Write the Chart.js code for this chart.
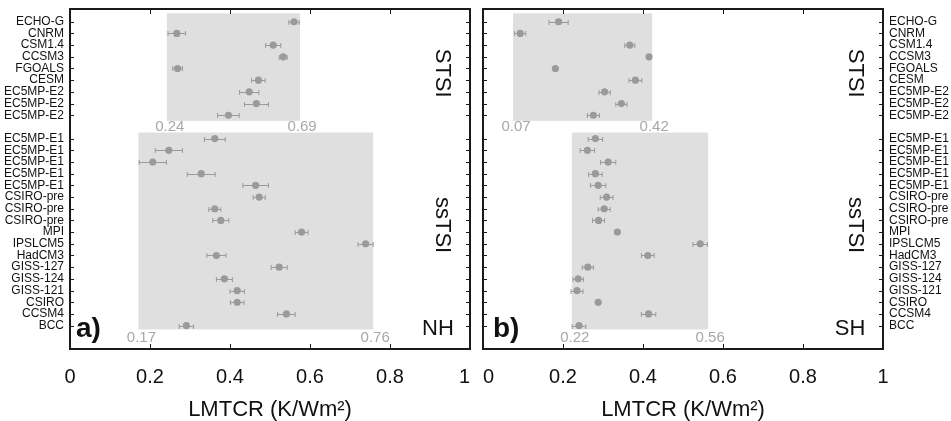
<!DOCTYPE html>
<html>
<head>
<meta charset="utf-8">
<script src="https://cdn.jsdelivr.net/npm/chart.js@4/dist/chart.umd.min.js"></script>
<style>
html, body { margin: 0; padding: 0; background: #fff; }
#wrap { position: relative; width: 951px; height: 421px; }
#nh { position: absolute; left: 0; top: 0; }
#sh { position: absolute; left: 476px; top: 0; }
</style>
</head>
<body>
<div id="wrap">
  <canvas id="nh" width="476" height="421"></canvas>
  <canvas id="sh" width="475" height="421"></canvas>
</div>
<script>
// model names, STSI group (top) and ssTSI group (bottom)
var topModels = ['ECHO-G', 'CNRM', 'CSM1.4', 'CCSM3', 'FGOALS', 'CESM', 'EC5MP-E2', 'EC5MP-E2', 'EC5MP-E2'];
var bottomModels = ['EC5MP-E1', 'EC5MP-E1', 'EC5MP-E1', 'EC5MP-E1', 'EC5MP-E1', 'CSIRO-pre', 'CSIRO-pre', 'CSIRO-pre',
  'MPI', 'IPSLCM5', 'HadCM3', 'GISS-127', 'GISS-124', 'GISS-121', 'CSIRO', 'CCSM4', 'BCC'];

// LMTCR values and half-width of error bars
var nhTopValues = [0.560, 0.267, 0.508, 0.533, 0.269, 0.471, 0.448, 0.466, 0.396];
var nhTopErrors = [0.013, 0.022, 0.019, 0.010, 0.012, 0.017, 0.024, 0.030, 0.027];
var nhBottomValues = [0.362, 0.247, 0.207, 0.328, 0.464, 0.473, 0.362, 0.377, 0.579, 0.739, 0.366, 0.523, 0.386, 0.418, 0.418, 0.541, 0.291];
var nhBottomErrors = [0.026, 0.034, 0.034, 0.035, 0.032, 0.015, 0.015, 0.020, 0.016, 0.019, 0.024, 0.020, 0.020, 0.018, 0.017, 0.022, 0.018];

var shTopValues = [0.189, 0.093, 0.367, 0.415, 0.181, 0.381, 0.304, 0.346, 0.276];
var shTopErrors = [0.024, 0.014, 0.0125, 0.004, 0.003, 0.016, 0.014, 0.014, 0.015];
var shBottomValues = [0.281, 0.261, 0.313, 0.281, 0.288, 0.309, 0.303, 0.289, 0.336, 0.543, 0.412, 0.262, 0.238, 0.235, 0.288, 0.414, 0.240];
var shBottomErrors = [0.018, 0.018, 0.019, 0.017, 0.019, 0.016, 0.015, 0.015, 0.005, 0.018, 0.016, 0.014, 0.013, 0.015, 0.004, 0.018, 0.017];

var xTicks = [0, 0.2, 0.4, 0.6, 0.8, 1];

// shaded ranges (x) and their printed labels
var nhRanges = [[0.242, 0.575], [0.171, 0.758]];
var nhRangeLabels = [['0.24', '0.69'], ['0.17', '0.76']];
var shRanges = [[0.075, 0.423], [0.222, 0.563]];
var shRangeLabels = [['0.07', '0.42'], ['0.22', '0.56']];
var boxRows = [[-0.72, 8.48], [9.48, 26.33]];

// row slots: top group 0..8, one empty slot, bottom group 10..26
var topRows = topModels.map(function (m, i) { return i; });
var bottomRows = bottomModels.map(function (m, i) { return i + 10; });
var allRows = topRows.concat(bottomRows);
var allNames = topModels.concat(bottomModels);

var FONT = "'Liberation Sans', Arial, sans-serif";
var GREY = '#9a9a9a';

function toPoints(values, rows) {
  return values.map(function (v, i) { return { x: v, y: rows[i] }; });
}

function decorPlugin(cfg) {
  return {
    id: 'decor',
    beforeDatasetsDraw: function (chart) {
      var ctx = chart.ctx, x = chart.scales.x, y = chart.scales.y;
      ctx.save();
      ctx.fillStyle = '#dfdfdf';
      cfg.ranges.forEach(function (r, k) {
        var x0 = x.getPixelForValue(r[0]), x1 = x.getPixelForValue(r[1]);
        var y0 = y.getPixelForValue(boxRows[k][0]), y1 = y.getPixelForValue(boxRows[k][1]);
        ctx.fillRect(x0, y0, x1 - x0, y1 - y0);
      });
      // error bars
      ctx.strokeStyle = GREY;
      ctx.lineWidth = 1;
      cfg.errors.forEach(function (errs, d) {
        var vals = cfg.values[d], rows = d === 0 ? topRows : bottomRows;
        errs.forEach(function (e, i) {
          var xa = x.getPixelForValue(vals[i] - e), xb = x.getPixelForValue(vals[i] + e);
          var yy = Math.round(y.getPixelForValue(rows[i])) + 0.5;
          ctx.beginPath();
          ctx.moveTo(xa, yy); ctx.lineTo(xb, yy);
          ctx.moveTo(xa, yy - 2.5); ctx.lineTo(xa, yy + 2.5);
          ctx.moveTo(xb, yy - 2.5); ctx.lineTo(xb, yy + 2.5);
          ctx.stroke();
        });
      });
      ctx.restore();
    },
    afterDraw: function (chart) {
      var ctx = chart.ctx, x = chart.scales.x, y = chart.scales.y, a = chart.chartArea;
      ctx.save();
      // range labels
      ctx.fillStyle = '#a8a8a8';
      ctx.font = '15px ' + FONT;
      ctx.textAlign = 'center';
      ctx.textBaseline = 'middle';
      var labelRows = [9.0, 27.05];
      cfg.ranges.forEach(function (r, k) {
        ctx.fillText(cfg.rangeLabels[k][0], x.getPixelForValue(r[0]) + 3, y.getPixelForValue(labelRows[k]));
        ctx.fillText(cfg.rangeLabels[k][1], x.getPixelForValue(r[1]) + 2, y.getPixelForValue(labelRows[k]));
      });
      // frame
      ctx.strokeStyle = '#1a1a1a';
      ctx.lineWidth = 2;
      ctx.strokeRect(a.left, a.top, a.right - a.left, a.bottom - a.top);
      ctx.lineWidth = 1;
      ctx.beginPath();
      xTicks.forEach(function (v) {
        var px = Math.round(x.getPixelForValue(v)) + 0.5;
        ctx.moveTo(px, a.top); ctx.lineTo(px, a.top + 5);
        ctx.moveTo(px, a.bottom); ctx.lineTo(px, a.bottom - 5);
      });
      allRows.forEach(function (r) {
        var py = Math.round(y.getPixelForValue(r)) + 0.5;
        ctx.moveTo(a.left, py); ctx.lineTo(a.left + 4, py);
        ctx.moveTo(a.right, py); ctx.lineTo(a.right - 4, py);
      });
      ctx.stroke();
      // texts
      ctx.fillStyle = '#111';
      ctx.font = '22px ' + FONT;
      [['STSI', 4.4], ['ssTSI', 17.4]].forEach(function (t) {
        ctx.save();
        ctx.translate(x.getPixelForValue(0.93), y.getPixelForValue(t[1]));
        ctx.rotate(Math.PI / 2);
        ctx.fillText(t[0], 0, 0);
        ctx.restore();
      });
      ctx.fillText(cfg.hemisphere, x.getPixelForValue(cfg.hemX), y.getPixelForValue(26.3));
      ctx.font = 'bold 28px ' + FONT;
      ctx.textAlign = 'left';
      ctx.fillText(cfg.letter, x.getPixelForValue(cfg.letterX), y.getPixelForValue(26.3));
      ctx.restore();
    }
  };
}

function makeChart(id, cfg) {
  return new Chart(document.getElementById(id), {
    type: 'scatter',
    data: {
      datasets: [
        { data: toPoints(cfg.values[0], topRows) },
        { data: toPoints(cfg.values[1], bottomRows) }
      ]
    },
    options: {
      responsive: false,
      animation: false,
      events: [],
      layout: { padding: { top: 9, left: cfg.padLeft, right: cfg.padRight, bottom: 0 } },
      elements: { point: { radius: 3.6, backgroundColor: GREY, borderWidth: 0 } },
      plugins: { legend: { display: false }, tooltip: { enabled: false } },
      scales: {
        x: {
          type: 'linear', min: 0, max: 1,
          afterBuildTicks: function (s) { s.ticks = xTicks.map(function (v) { return { value: v }; }); },
          afterFit: function (s) { s.height = 72; s.paddingLeft = 0; s.paddingRight = 0; },
          grid: { display: false, drawTicks: false },
          border: { display: false },
          ticks: { color: '#111', font: { size: 20, family: FONT }, padding: 16, maxRotation: 0,
            callback: function (v) {
              // keep the "1" of panel a and the "0" of panel b apart
              if (cfg.side === 'left' && v === 1) return '1  ';
              if (cfg.side === 'right' && v === 0) return '  0';
              return String(v);
            } },
          title: { display: true, text: 'LMTCR (K/Wm²)', color: '#111', font: { size: 22, family: FONT, lineHeight: 1.0 }, padding: 0 }
        },
        y: {
          type: 'linear', position: cfg.side, min: -1.09, max: 28, reverse: true,
          afterBuildTicks: function (s) { s.ticks = allRows.map(function (v) { return { value: v }; }); },
          afterFit: function (s) { s.width = cfg.yWidth; s.paddingTop = 0; s.paddingBottom = 0; },
          grid: { display: false, drawTicks: false },
          border: { display: false },
          ticks: { color: '#111', font: { size: 12, family: FONT }, padding: 6, autoSkip: false,
            callback: function (v) { var i = allRows.indexOf(v); return i < 0 ? '' : allNames[i]; } }
        }
      }
    },
    plugins: [decorPlugin(cfg)]
  });
}

makeChart('nh', {
  values: [nhTopValues, nhBottomValues], errors: [nhTopErrors, nhBottomErrors],
  ranges: nhRanges, rangeLabels: nhRangeLabels,
  side: 'left', yWidth: 70, padLeft: 0, padRight: 6,
  hemisphere: 'NH', hemX: 0.92, letter: 'a)', letterX: 0.015
});
makeChart('sh', {
  values: [shTopValues, shBottomValues], errors: [shTopErrors, shBottomErrors],
  ranges: shRanges, rangeLabels: shRangeLabels,
  side: 'right', yWidth: 68, padLeft: 7, padRight: 0,
  hemisphere: 'SH', hemX: 0.9175, letter: 'b)', letterX: 0.025
});
</script>
</body>
</html>
